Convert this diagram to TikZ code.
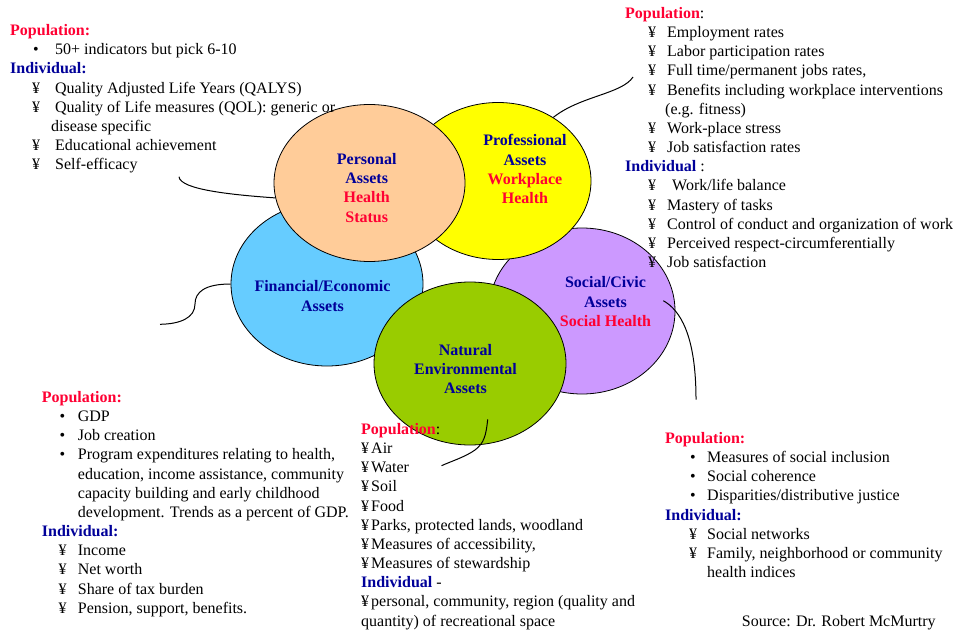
\documentclass[tikz,border=0pt]{standalone}
\usepackage{fontspec}
\setmainfont{Liberation Serif}
\usetikzlibrary{shapes.geometric}

\definecolor{popred}{HTML}{FF0033}
\definecolor{navy}{HTML}{000099}
\definecolor{peach}{HTML}{FFCC99}
\definecolor{lemon}{HTML}{FFFF00}
\definecolor{sky}{HTML}{66CCFF}
\definecolor{lilac}{HTML}{CC99FF}
\definecolor{olive}{HTML}{99CC00}

% heading words
\newcommand\popl[1]{\textcolor{popred}{\textbf{#1}}}
\newcommand\indl[1]{\textcolor{navy}{\textbf{#1}}}
% list marker: indent, marker box width, marker
\newcommand\mk[3]{\hspace*{#1pt}\makebox[#2pt][l]{#3}}
% fixes the height of the first line of a block
\newcommand\topfix{\rule{0pt}{12pt}}

\begin{document}
\begin{tikzpicture}[x=1pt,y=-1pt,
  asset/.style={ellipse, draw=black, line width=0.8pt, inner sep=0pt},
  lbl/.style={anchor=north, inner sep=0pt, align=center, text=navy,
              font=\bfseries\fontsize{16}{19.2}\selectfont},
  blk/.style={anchor=north west, inner sep=0pt, align=left,
              font=\fontsize{16}{19.15}\selectfont},
  callout/.style={draw=black, line width=1pt}]

\fill[white] (0,0) rectangle (957,631);
\useasboundingbox (0,0) rectangle (957,631);

% the five asset areas
\node[asset, fill=lilac, minimum width=186pt, minimum height=166pt] (soc) at (582,311) {};
\node[asset, fill=lemon, minimum width=186pt, minimum height=157pt] (prof) at (498,181) {};
\node[asset, fill=sky, minimum width=192pt, minimum height=164pt] (fin) at (327,284) {};
\node[asset, fill=peach, minimum width=191pt, minimum height=157pt] (pers) at (369.5,183) {};
\node[asset, fill=olive, minimum width=192pt, minimum height=163pt] (nat) at (470,363.5) {};

% area titles
\node[lbl] (persL) at (366.7,152.3) {\topfix Personal\\Assets\\\textcolor{popred}{Health}\\\textcolor{popred}{Status}};
\node[lbl] (profL) at (525,133.7) {\topfix Professional\\Assets\\\textcolor{popred}{Workplace}\\\textcolor{popred}{Health}};
\node[lbl] (finL) at (322.5,279.7) {\topfix Financial/Economic\\Assets};
\node[lbl] (socL) at (605.5,275.7) {\topfix Social/Civic\\Assets\\\textcolor{popred}{Social Health}};
\node[lbl] (natL) at (465.5,343) {\topfix Natural\\Environmental\\Assets};

% indicator lists
\node[blk] (persT) at (10,23.5) {\topfix\popl{Population:}\\
\mk{23}{22}{•}50+ indicators but pick 6-10\\
\indl{Individual:}\\
\mk{22}{23}{¥}Quality Adjusted Life Years (QALYS)\\
\mk{22}{23}{¥}Quality of Life measures (QOL): generic or\\
\hspace*{41pt}disease specific\\
\mk{22}{23}{¥}Educational achievement\\
\mk{22}{23}{¥}Self-efficacy};

\node[blk] (profT) at (625,6.3) {\topfix\popl{Population}:\\
\mk{23}{19}{¥}Employment rates\\
\mk{23}{19}{¥}Labor participation rates\\
\mk{23}{19}{¥}Full time/permanent jobs rates,\\
\mk{23}{19}{¥}Benefits including workplace interventions\\
\hspace*{40pt}(e.g. fitness)\\
\mk{23}{19}{¥}Work-place stress\\
\mk{23}{19}{¥}Job satisfaction rates\\
\indl{Individual} :\\
\mk{23}{24}{¥}Work/life balance\\
\mk{23}{19}{¥}Mastery of tasks\\
\mk{23}{19}{¥}Control of conduct and organization of work\\
\mk{23}{19}{¥}Perceived respect-circumferentially\\
\mk{23}{19}{¥}Job satisfaction};

\node[blk] (finT) at (41.7,390.3) {\topfix\popl{Population:}\\
\mk{17.6}{18.4}{•}GDP\\
\mk{17.6}{18.4}{•}Job creation\\
\mk{17.6}{18.4}{•}Program expenditures relating to health,\\
\hspace*{36pt}education, income assistance, community\\
\hspace*{36pt}capacity building and early childhood\\
\hspace*{36pt}development. Trends as a percent of GDP.\\
\indl{Individual:}\\
\mk{16.6}{19.4}{¥}Income\\
\mk{16.6}{19.4}{¥}Net worth\\
\mk{16.6}{19.4}{¥}Share of tax burden\\
\mk{16.6}{19.4}{¥}Pension, support, benefits.};

\node[blk] (natT) at (361,422.3) {\topfix\popl{Population}:\\
\makebox[10pt][l]{¥}Air\\
\makebox[10pt][l]{¥}Water\\
\makebox[10pt][l]{¥}Soil\\
\makebox[10pt][l]{¥}Food\\
\makebox[10pt][l]{¥}Parks, protected lands, woodland\\
\makebox[10pt][l]{¥}Measures of accessibility,\\
\makebox[10pt][l]{¥}Measures of stewardship\\
\indl{Individual} -\\
\makebox[10pt][l]{¥}personal, community, region (quality and\\
quantity) of recreational space};

\node[blk] (socT) at (665,431.3) {\topfix\popl{Population:}\\
\mk{25}{17}{•}Measures of social inclusion\\
\mk{25}{17}{•}Social coherence\\
\mk{25}{17}{•}Disparities/distributive justice\\
\indl{Individual:}\\
\mk{24}{18}{¥}Social networks\\
\mk{24}{18}{¥}Family, neighborhood or community\\
\hspace*{42pt}health indices};

\node[blk] (src) at (741.7,614.7) {\topfix Source: Dr. Robert McMurtry};

% call-out lines from each area into its list
\coordinate (persE) at (179,176.7);
\coordinate (finE) at (160,324.3);
\coordinate (profE) at (633,77);
\coordinate (socS) at (663.3,300.7);
\coordinate (socE) at (696,399.5);
\coordinate (natS) at (487.7,419.3);
\coordinate (natE) at (441.5,465.7);

\draw[callout] (pers.189) .. controls (235,195) and (180,190) .. (persE);
\draw[callout] (fin.west) .. controls (205,284) and (195,292) .. (195,304)
                .. controls (195,318) and (180,324) .. (finE);
\draw[callout] (prof.49) .. controls (580,96) and (622,94) .. (profE);
\draw[callout] (socS) .. controls (680,310) and (696,335) .. (socE);
\draw[callout] (natS) .. controls (486,436) and (484,443) .. (475,450)
                .. controls (465,457) and (452,461) .. (natE);
\end{tikzpicture}
\end{document}
